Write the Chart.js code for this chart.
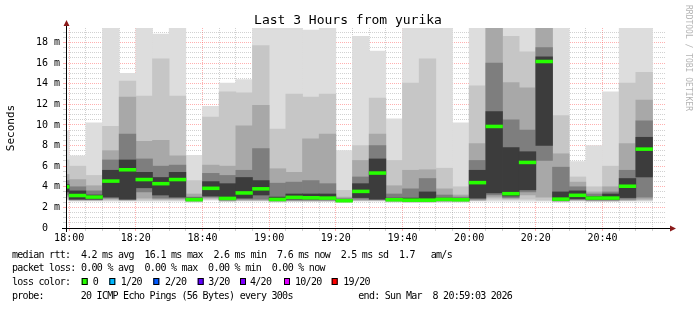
<!DOCTYPE html>
<html>
<head>
<meta charset="utf-8">
<script src="https://cdn.jsdelivr.net/npm/chart.js@4.4.1/dist/chart.umd.min.js"></script>
<style>
  html, body { margin: 0; padding: 0; background: #fff; }
  canvas { display: block; }
</style>
</head>
<body>
<canvas id="smoke" width="697" height="310"></canvas>
<script>
// 5 minute slots (start time of each slot)
const slotStart = ['17:55', '18:00', '18:05', '18:10', '18:15', '18:20', '18:25', '18:30', '18:35', '18:40', '18:45', '18:50',
  '18:55', '19:00', '19:05', '19:10', '19:15', '19:20', '19:25', '19:30', '19:35', '19:40', '19:45', '19:50',
  '19:55', '20:00', '20:05', '20:10', '20:15', '20:20', '20:25', '20:30', '20:35', '20:40', '20:45', '20:50'];

// sorted ping ranks per slot (ms), 20 pings -> p0 lowest ... p19 highest
const p0  = [2.7, 2.6, 2.6, 2.6, 2.6, 2.6, 2.6, 2.6, 2.5, 2.7, 2.55, 2.6, 2.6, 2.5, 2.55, 2.55, 2.55, 2.45, 2.6, 2.6, 2.5, 2.45, 2.45, 2.5, 2.5, 2.6, 2.6, 2.6, 2.6, 2.6, 2.5, 2.6, 2.55, 2.55, 2.6, 2.6];
const p2  = [2.8, 2.65, 2.65, 2.7, 2.65, 2.7, 2.7, 2.7, 2.55, 2.8, 2.6, 2.65, 2.65, 2.55, 2.6, 2.6, 2.6, 2.5, 2.65, 2.65, 2.55, 2.5, 2.5, 2.55, 2.55, 2.65, 2.8, 2.75, 2.8, 2.7, 2.55, 2.65, 2.6, 2.6, 2.65, 2.7];
const p4  = [3.0, 2.7, 2.7, 2.8, 2.7, 2.9, 2.8, 2.8, 2.6, 2.9, 2.65, 2.7, 2.7, 2.6, 2.65, 2.65, 2.65, 2.55, 2.7, 2.7, 2.6, 2.55, 2.55, 2.6, 2.6, 2.7, 3.0, 2.85, 3.2, 3.0, 2.6, 2.7, 2.65, 2.65, 2.7, 2.8];
const p6  = [3.2, 2.75, 2.75, 2.9, 2.75, 3.5, 2.9, 2.9, 2.65, 3.0, 2.7, 2.8, 2.8, 2.65, 2.7, 2.7, 2.7, 2.6, 2.8, 2.75, 2.65, 2.6, 2.6, 2.65, 2.65, 2.8, 3.2, 2.95, 3.5, 6.55, 2.65, 2.75, 2.7, 2.7, 2.8, 3.0];
const p8  = [3.5, 2.8, 2.8, 3.0, 2.8, 3.9, 3.2, 3.0, 2.7, 3.1, 2.75, 2.9, 3.2, 2.7, 2.8, 2.8, 2.8, 2.65, 2.95, 2.8, 2.7, 2.65, 2.65, 2.7, 2.7, 2.9, 3.4, 3.1, 3.7, 8.0, 2.7, 2.85, 2.75, 2.75, 2.95, 4.95];
const median = [4.0, 3.15, 3.0, 4.55, 5.65, 4.7, 4.3, 4.7, 2.75, 3.85, 2.87, 3.4, 3.8, 2.77, 2.97, 2.93, 2.9, 2.65, 3.55, 5.33, 2.74, 2.7, 2.7, 2.77, 2.74, 4.4, 9.85, 3.33, 6.36, 16.15, 2.8, 3.17, 2.9, 2.9, 4.05, 7.65];
const p11 = [4.2, 3.6, 3.2, 5.6, 6.6, 5.4, 4.9, 5.4, 2.9, 4.5, 4.3, 4.9, 4.6, 3.0, 3.3, 3.3, 3.3, 2.75, 4.3, 6.7, 2.9, 2.9, 3.5, 2.9, 2.85, 5.6, 11.3, 7.8, 7.4, 16.6, 3.5, 3.6, 3.05, 3.3, 4.8, 8.8];
const p13 = [4.6, 4.0, 3.6, 6.6, 9.1, 6.7, 6.0, 6.1, 3.0, 5.3, 5.1, 5.6, 7.7, 4.35, 4.45, 4.6, 4.3, 2.85, 4.95, 8.0, 3.3, 3.8, 4.8, 3.2, 3.0, 6.55, 16.0, 10.5, 9.5, 17.5, 5.9, 4.0, 3.3, 3.5, 5.6, 10.4];
const p15 = [5.2, 4.7, 4.1, 7.5, 12.7, 8.4, 8.5, 7.0, 3.3, 6.1, 6.0, 9.9, 11.9, 5.75, 5.4, 8.65, 9.1, 3.0, 6.55, 9.1, 4.1, 5.6, 5.65, 3.8, 3.2, 8.2, 21, 14.1, 13.6, 22, 7.2, 4.45, 3.5, 4.0, 8.2, 12.4];
const p17 = [6.6, 6.0, 5.1, 9.85, 14.25, 12.8, 16.4, 12.8, 4.6, 10.75, 13.2, 13.1, 17.7, 9.6, 13.0, 12.7, 13.0, 3.65, 8.0, 12.6, 6.55, 14.05, 16.4, 5.8, 4.0, 13.8, 22, 18.6, 17.1, 22.5, 10.9, 4.95, 4.0, 6.0, 14.05, 15.1];
const p19 = [9.4, 7.0, 10.2, 22, 15.0, 22, 18.8, 22, 7.05, 11.8, 14.05, 14.4, 22, 22, 22, 19.2, 22, 7.5, 18.6, 17.15, 10.6, 22, 22, 22, 10.2, 22, 23, 22, 22, 23, 22, 6.45, 8.0, 13.2, 22, 22];

const yTop = 19.4;          // upper limit of the graph (ms)
const xFrom = -0.95;        // 17:59:03 in minutes after 18:00
const xTo = 179.05;         // 20:59:03

const legendLines = [
  'median rtt:  4.2 ms avg  16.1 ms max  2.6 ms min  7.6 ms now  2.5 ms sd  1.7   am/s',
  'packet loss: 0.00 % avg  0.00 % max  0.00 % min  0.00 % now'
];
const lossLabels = ['0', '1/20', '2/20', '3/20', '4/20', '10/20', '19/20'];
const lossColors = ['#26ff00', '#00b8ff', '#0059ff', '#5e00ff', '#7e00ff', '#dd00ff', '#ff0000'];

const MONO = "'DejaVu Sans Mono', monospace";

function toMinutes(s) {
  const [h, m] = s.split(':').map(Number);
  return (h - 18) * 60 + m;
}
function hhmm(v) {
  const t = 18 * 60 + v;
  return String(Math.floor(t / 60)).padStart(2, '0') + ':' + String(t % 60).padStart(2, '0');
}
const centers = slotStart.map(s => toMinutes(s) + 2.5);

// smoke layers, outermost (lightest) to innermost (darkest)
const layers = [
  { lo: p0, hi: p19, color: '#dddddd' },
  { lo: p2, hi: p17, color: '#c6c6c6' },
  { lo: p4, hi: p15, color: '#a8a8a8' },
  { lo: p6, hi: p13, color: '#7e7e7e' },
  { lo: p8, hi: p11, color: '#3c3c3c' }
];

const barBase = { type: 'bar', barPercentage: 1, categoryPercentage: 1, grouped: false, borderWidth: 0, clip: 0 };
const datasets = layers.map((l, i) => Object.assign({}, barBase, {
  data: centers.map((c, k) => ({ x: c, y: [l.lo[k], l.hi[k]] })),
  backgroundColor: l.color,
  order: 10 - i
}));
const halfLine = 0.14; // median drawn as a 3px line
datasets.push(Object.assign({}, barBase, {
  data: centers.map((c, k) => ({ x: c, y: [median[k] - halfLine, median[k] + halfLine] })),
  backgroundColor: '#26ff00',
  order: 0
}));

const minorGrid = 'rgba(140,140,140,0.4)';
const majorGrid = 'rgba(255,80,80,0.45)';

const decor = {
  id: 'decor',
  afterDraw(chart) {
    const { ctx, chartArea: a } = chart;
    ctx.save();
    // axes
    const ax = Math.round(a.left) + 0.5, ay = Math.round(a.bottom) + 0.5;
    ctx.strokeStyle = '#000';
    ctx.lineWidth = 1;
    ctx.beginPath();
    ctx.moveTo(a.left - 4, ay); ctx.lineTo(a.right + 6, ay);
    ctx.moveTo(ax, a.bottom + 4); ctx.lineTo(ax, a.top - 4);
    ctx.stroke();
    ctx.fillStyle = '#8b1a1a';
    ctx.beginPath();
    ctx.moveTo(ax, a.top - 8); ctx.lineTo(ax - 3, a.top - 2); ctx.lineTo(ax + 3, a.top - 2); ctx.closePath();
    ctx.moveTo(a.right + 10, ay); ctx.lineTo(a.right + 4, ay - 3); ctx.lineTo(a.right + 4, ay + 3); ctx.closePath();
    ctx.fill();

    // title
    ctx.fillStyle = '#000';
    ctx.font = '13px ' + MONO;
    ctx.textAlign = 'center';
    ctx.textBaseline = 'alphabetic';
    ctx.fillText('Last 3 Hours from yurika', 348, 24);

    // vertical label
    ctx.save();
    ctx.translate(11, (a.top + a.bottom) / 2);
    ctx.rotate(-Math.PI / 2);
    ctx.font = '11px ' + MONO;
    ctx.textBaseline = 'middle';
    ctx.fillText('Seconds', 0, 0);
    ctx.restore();

    // watermark
    ctx.save();
    ctx.translate(688, 5);
    ctx.rotate(Math.PI / 2);
    ctx.font = '8px ' + MONO;
    ctx.fillStyle = '#b4b4b4';
    ctx.textAlign = 'left';
    ctx.textBaseline = 'middle';
    ctx.fillText('RRDTOOL / TOBI OETIKER', 0, 0);
    ctx.restore();

    // legend block: tight monospace, ~5.3px per character
    const cw = 5.3;
    ctx.font = '10px ' + MONO;
    ctx.textAlign = 'left';
    ctx.textBaseline = 'middle';
    ctx.fillStyle = '#000';
    if ('letterSpacing' in ctx) {
      ctx.letterSpacing = (cw - ctx.measureText('0').width).toFixed(2) + 'px';
    }
    const put = (txt, x, y) => ctx.fillText(txt, x, y, txt.length * cw + 1);
    put(legendLines[0], 12, 255);
    put(legendLines[1], 12, 268.5);
    put('loss color:', 12, 282);
    const sqX = [81.7, 109.3, 153.3, 197.7, 240, 284, 331.7];
    const lbX = [92.7, 120.7, 165, 208.3, 250, 295, 343.3];
    lossLabels.forEach((lab, i) => {
      ctx.fillStyle = lossColors[i];
      ctx.fillRect(sqX[i], 278, 6, 7);
      ctx.strokeStyle = '#000';
      ctx.strokeRect(sqX[i] + 0.5, 278.5, 5, 6);
      ctx.fillStyle = '#000';
      put(lab, lbX[i], 282);
    });
    put('probe:', 12, 296);
    put('20 ICMP Echo Pings (56 Bytes) every 300s', 80.7, 296);
    put('end: Sun Mar  8 20:59:03 2026', 358.3, 296);
    ctx.restore();
  }
};

new Chart(document.getElementById('smoke'), {
  type: 'bar',
  data: { datasets: datasets },
  options: {
    responsive: false,
    animation: false,
    layout: { padding: { top: 28, right: 31, left: 0, bottom: 0 } },
    plugins: { legend: { display: false }, tooltip: { enabled: false }, title: { display: false } },
    scales: {
      x: {
        type: 'linear',
        offset: false,
        min: xFrom,
        max: xTo,
        z: 1,
        afterFit: s => { s.height = 82; },
        afterBuildTicks: s => {
          const t = [];
          for (let m = 0; m <= 175; m += 5) t.push({ value: m });
          s.ticks = t;
        },
        border: { display: false, dash: [1, 1] },
        grid: {
          offset: false,
          color: c => (c.tick && c.tick.value % 20 === 0 ? majorGrid : minorGrid),
          tickLength: 3
        },
        ticks: {
          autoSkip: false, maxRotation: 0, minRotation: 0, padding: 1,
          color: '#000',
          font: { family: MONO, size: 10 },
          callback: v => (v % 20 === 0 ? hhmm(v) : '')
        }
      },
      y: {
        min: 0,
        max: yTop,
        z: 1,
        afterFit: s => { s.width = 66; },
        afterBuildTicks: s => {
          const t = [];
          for (let v = 0; v <= 19; v += 0.5) t.push({ value: v });
          s.ticks = t;
        },
        border: { display: false, dash: [1, 1] },
        grid: {
          color: c => (c.tick && c.tick.value % 2 === 0 ? majorGrid : minorGrid),
          tickLength: 3
        },
        ticks: {
          autoSkip: false, padding: 3,
          color: '#000',
          font: { family: MONO, size: 10 },
          callback: v => (v % 2 === 0 ? (v === 0 ? '0  ' : v + ' m') : '')
        }
      }
    }
  },
  plugins: [decor]
});
</script>
</body>
</html>
